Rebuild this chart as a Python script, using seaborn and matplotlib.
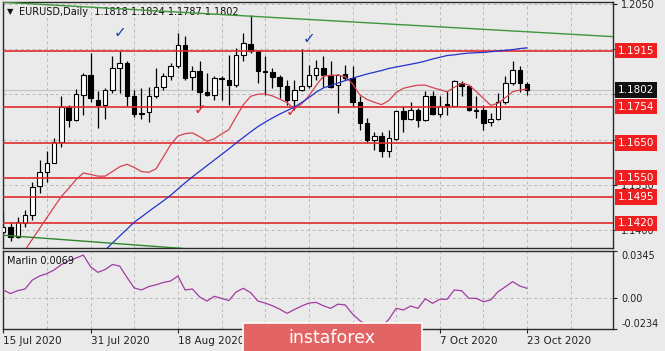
import matplotlib
matplotlib.use("Agg")
import matplotlib.pyplot as plt
import matplotlib.transforms as mtransforms
from matplotlib.patches import Rectangle
import seaborn as sns
import pandas as pd

# daily EURUSD candles, 15 Jul 2020 .. 23 Oct 2020 (bar index 0..72)
opens = [1.1395, 1.1408, 1.1381, 1.1420, 1.1444, 1.1527, 1.1568, 1.1594, 1.1654, 1.1753,
         1.1715, 1.1789, 1.1846, 1.1772, 1.1760, 1.1803, 1.1865, 1.1880, 1.1786, 1.1734,
         1.1738, 1.1784, 1.1812, 1.1843, 1.1870, 1.1932, 1.1839, 1.1858, 1.1797, 1.1789,
         1.1836, 1.1831, 1.1817, 1.1903, 1.1935, 1.1913, 1.1856, 1.1853, 1.1839, 1.1814,
         1.1774, 1.1801, 1.1814, 1.1846, 1.1865, 1.1846, 1.1817, 1.1849, 1.1836, 1.1769,
         1.1707, 1.1659, 1.1669, 1.1626, 1.1661, 1.1741, 1.1719, 1.1745, 1.1717, 1.1784,
         1.1734, 1.1762, 1.1757, 1.1822, 1.1814, 1.1745, 1.1745, 1.1709, 1.1719, 1.1769,
         1.1822, 1.1860, 1.1818]
highs = [1.1449, 1.1424, 1.1439, 1.1458, 1.1539, 1.1602, 1.1626, 1.1664, 1.1784, 1.1760,
         1.1805, 1.1851, 1.1908, 1.1798, 1.1808, 1.1899, 1.1913, 1.1884, 1.1803, 1.1808,
         1.1812, 1.1865, 1.1851, 1.1881, 1.1966, 1.1958, 1.1870, 1.1884, 1.1851, 1.1841,
         1.1841, 1.1903, 1.1923, 1.1966, 1.2016, 1.1918, 1.1899, 1.1865, 1.1846, 1.1832,
         1.1832, 1.1920, 1.1875, 1.1889, 1.1901, 1.1884, 1.1849, 1.1875, 1.1870, 1.1784,
         1.1721, 1.1683, 1.1683, 1.1688, 1.1745, 1.1755, 1.1769, 1.1750, 1.1798, 1.1798,
         1.1784, 1.1798, 1.1832, 1.1827, 1.1817, 1.1784, 1.1760, 1.1736, 1.1793, 1.1841,
         1.1884, 1.1872, 1.1824]
lows = [1.1386, 1.1370, 1.1377, 1.1410, 1.1428, 1.1506, 1.1539, 1.1592, 1.1640, 1.1697,
        1.1712, 1.1731, 1.1769, 1.1693, 1.1719, 1.1793, 1.1793, 1.1755, 1.1726, 1.1719,
        1.1709, 1.1779, 1.1803, 1.1832, 1.1865, 1.1832, 1.1803, 1.1747, 1.1786, 1.1774,
        1.1774, 1.1760, 1.1812, 1.1884, 1.1908, 1.1822, 1.1789, 1.1808, 1.1779, 1.1760,
        1.1745, 1.1799, 1.1808, 1.1832, 1.1811, 1.1808, 1.1736, 1.1832, 1.1755, 1.1688,
        1.1651, 1.1630, 1.1611, 1.1611, 1.1658, 1.1683, 1.1717, 1.1696, 1.1712, 1.1731,
        1.1726, 1.1731, 1.1755, 1.1784, 1.1741, 1.1721, 1.1688, 1.1698, 1.1717, 1.1763,
        1.1817, 1.1795, 1.1787]
closes = [1.1408, 1.1381, 1.1424, 1.1444, 1.1525, 1.1568, 1.1594, 1.1654, 1.1753, 1.1715,
          1.1791, 1.1846, 1.1779, 1.1760, 1.1803, 1.1865, 1.1880, 1.1786, 1.1734, 1.1737,
          1.1784, 1.1812, 1.1843, 1.1870, 1.1932, 1.1836, 1.1858, 1.1795, 1.1789, 1.1836,
          1.1834, 1.1817, 1.1903, 1.1937, 1.1913, 1.1856, 1.1854, 1.1839, 1.1814, 1.1774,
          1.1801, 1.1814, 1.1846, 1.1865, 1.1846, 1.1812, 1.1846, 1.1836, 1.1769, 1.1707,
          1.1659, 1.1671, 1.1626, 1.1664, 1.1741, 1.1719, 1.1745, 1.1717, 1.1784, 1.1734,
          1.1757, 1.1757, 1.1827, 1.1814, 1.1745, 1.1743, 1.1707, 1.1719, 1.1769, 1.1822,
          1.1860, 1.1822, 1.1802]

# short moving average (red), from bar 2
red_ma = [1.1318, 1.1343, 1.1374, 1.1405, 1.1436, 1.1467, 1.1497, 1.1520, 1.1545, 1.1564,
          1.1560, 1.1555, 1.1555, 1.1568, 1.1582, 1.1589, 1.1580, 1.1568, 1.1566, 1.1576,
          1.1610, 1.1645, 1.1670, 1.1677, 1.1679, 1.1668, 1.1655, 1.1662, 1.1676, 1.1688,
          1.1725, 1.1760, 1.1784, 1.1790, 1.1791, 1.1785, 1.1776, 1.1766, 1.1748, 1.1762,
          1.1785, 1.1815, 1.1842, 1.1844, 1.1845, 1.1840, 1.1820, 1.1788, 1.1775, 1.1767,
          1.1760, 1.1772, 1.1795, 1.1807, 1.1812, 1.1816, 1.1816, 1.1809, 1.1803, 1.1797,
          1.1810, 1.1822, 1.1816, 1.1798, 1.1778, 1.1758, 1.1764, 1.1780, 1.1797, 1.1802,
          1.1805]
# long moving average (blue), from bar 13
blue_ma = [1.1320, 1.1343, 1.1363, 1.1383, 1.1403, 1.1423, 1.1438, 1.1454, 1.1469, 1.1484,
           1.1500, 1.1518, 1.1536, 1.1553, 1.1569, 1.1585, 1.1601, 1.1617, 1.1633, 1.1650,
           1.1666, 1.1682, 1.1697, 1.1710, 1.1722, 1.1733, 1.1743, 1.1753, 1.1766, 1.1780,
           1.1796, 1.1808, 1.1815, 1.1822, 1.1829, 1.1836, 1.1842, 1.1848, 1.1853, 1.1858,
           1.1864, 1.1868, 1.1872, 1.1876, 1.1880, 1.1885, 1.1891, 1.1896, 1.1901, 1.1903,
           1.1906, 1.1908, 1.1909, 1.1910, 1.1912, 1.1914, 1.1916, 1.1918, 1.1921, 1.1923]

marlin = [0.0057, 0.0030, 0.0052, 0.0064, 0.0130, 0.0160, 0.0178, 0.0205, 0.0245, 0.0272,
          0.0293, 0.0315, 0.0229, 0.0187, 0.0208, 0.0245, 0.0234, 0.0150, 0.0072, 0.0057,
          0.0082, 0.0095, 0.0112, 0.0123, 0.0160, 0.0057, 0.0064, 0.0005, -0.0025, 0.0010,
          -0.0005, -0.0022, 0.0042, 0.0069, 0.0037, -0.0025, -0.0040, -0.0060, -0.0085, -0.0116,
          -0.0088, -0.0062, -0.0040, -0.0035, -0.0060, -0.0079, -0.0048, -0.0054, -0.0120, -0.0170,
          -0.0205, -0.0228, -0.0215, -0.0160, -0.0079, -0.0091, -0.0062, -0.0079, -0.0008, -0.0042,
          -0.0012, -0.0012, 0.0057, 0.0051, -0.0005, -0.0005, -0.0030, -0.0017, 0.0044, 0.0080,
          0.0118, 0.0086, 0.0069]

levels = [1.1915, 1.1754, 1.1650, 1.1550, 1.1495, 1.1420]
last_price = 1.1802
price_ticks = [1.2050, 1.1920, 1.1790, 1.1660, 1.1530, 1.1400]
marlin_ticks = [0.0345, 0.0, -0.0234]
marlin_tick_labels = ["0.0345", "0.00", "-0.0234"]

# trend lines: (bar, price) anchors
upper_trend_bars = [-1, 84]
upper_trend_vals = [1.2055, 1.1955]
lower_trend_bars = [-1, 40]
lower_trend_vals = [1.1387, 1.1324]

date_bars = [0, 12, 24, 36, 48, 60, 72]
date_labels = ["15 Jul 2020", "31 Jul 2020", "18 Aug 2020", "3 Sep 2020",
               "21 Sep 2020", "7 Oct 2020", "23 Oct 2020"]

blue_checks_bar = [16, 42]
blue_checks_val = [1.1968, 1.1951]
red_checks_bar = [27, 39.7]
red_checks_val = [1.1745, 1.1741]

BG = "#eaeaea"
GRID = "#b9b9b9"


def main():
    sns.set_theme(style="white")
    plt.rcParams["font.family"] = ["DejaVu Sans"]

    n = len(closes)
    bars = list(range(n))
    df = pd.DataFrame({"bar": bars, "open": opens, "high": highs,
                       "low": lows, "close": closes, "marlin": marlin})

    fig = plt.figure(figsize=(6.65, 3.51), dpi=100, facecolor=BG)
    ax = fig.add_axes([2.5 / 665, 1 - 248.3 / 351, 610.5 / 665, 246.8 / 351], facecolor=BG)
    ax2 = fig.add_axes([2.5 / 665, 1 - 329.3 / 351, 610.5 / 665, 78.3 / 351], facecolor=BG)

    xlim = (-0.1, 83.8)
    for a in (ax, ax2):
        a.set_xlim(*xlim)
        for s in a.spines.values():
            s.set_color("#2b2b2b")
            s.set_linewidth(1.0)
        for b in range(6, 84, 6):
            a.axvline(b, color=GRID, lw=0.7, ls=(0, (3, 3)), zorder=1)

    ax.set_ylim(1.1348, 1.2056)
    ax2.set_ylim(-0.0234, 0.0345)

    # grid on main panel
    for p in price_ticks:
        ax.axhline(p, color=GRID, lw=0.7, ls=(0, (3, 3)), zorder=1)
    ax2.axhline(0, color=GRID, lw=0.7, ls=(0, (3, 3)), zorder=1)

    # current price line
    ax.axhline(last_price, color="#c4c4c4", lw=0.8, zorder=1.5)

    # candles
    ax.vlines(df["bar"], df["low"], df["high"], color="black", lw=0.9, zorder=2)
    body_low = df[["open", "close"]].min(axis=1)
    body_h = (df["close"] - df["open"]).abs().clip(lower=0.00008)
    face = ["white" if c >= o else "black" for o, c in zip(opens, closes)]
    ax.bar(df["bar"], body_h, bottom=body_low, width=0.62, color=face,
           edgecolor="black", linewidth=0.8, zorder=3)

    # support / resistance levels
    for lv in levels:
        ax.axhline(lv, color="#e02a2e", lw=1.2, zorder=4)

    # moving averages
    red_df = pd.DataFrame({"bar": bars[2:], "value": red_ma})
    blue_df = pd.DataFrame({"bar": bars[13:], "value": blue_ma})
    sns.lineplot(data=red_df, x="bar", y="value", ax=ax, color="#d8404f", lw=0.9, zorder=5)
    sns.lineplot(data=blue_df, x="bar", y="value", ax=ax, color="#2233cc", lw=0.9, zorder=5)

    # trend lines
    sns.lineplot(x=upper_trend_bars, y=upper_trend_vals, ax=ax, color="#3d963d", lw=1.0, zorder=5)
    sns.lineplot(x=lower_trend_bars, y=lower_trend_vals, ax=ax, color="#2f862f", lw=1.0, zorder=5)

    # check marks
    for b, v in zip(blue_checks_bar, blue_checks_val):
        ax.text(b, v, "\u2713", color="#1f3fa8", fontsize=11, ha="center", va="center",
                fontweight="bold", zorder=6)
    for b, v in zip(red_checks_bar, red_checks_val):
        ax.text(b, v, "\u2713", color="#e0282c", fontsize=11, ha="center", va="center",
                fontweight="bold", zorder=6)

    # right price scale
    ax.yaxis.tick_right()
    ax.set_yticks(price_ticks)
    ax.set_yticklabels([f"{p:.4f}" for p in price_ticks])
    ax.tick_params(axis="y", which="both", direction="out", length=3, width=0.8,
                   colors="#222222", labelsize=7, pad=3, right=True, left=False)
    ax.tick_params(axis="x", bottom=False, labelbottom=False)
    ax.set_xlabel("")
    ax.set_ylabel("")

    trans = mtransforms.blended_transform_factory(ax.transAxes, ax.transData)
    for lv in levels:
        ax.text(1.0075, lv, f"{lv:.4f}", transform=trans, ha="left", va="center",
                color="white", fontsize=7.5, clip_on=False, zorder=8,
                bbox=dict(boxstyle="square,pad=0.25", fc="#f01e1e", ec="none"))
    ax.text(1.0075, last_price, f"{last_price:.4f}", transform=trans, ha="left", va="center",
            color="white", fontsize=7.5, clip_on=False, zorder=8,
            bbox=dict(boxstyle="square,pad=0.25", fc="#111111", ec="none"))

    # header
    ax.text(0.0074, 0.958, "\u25bc", transform=ax.transAxes, fontsize=6, color="#111111",
            ha="left", va="center", zorder=7)
    ax.text(0.027, 0.958, "EURUSD,Daily  1.1818 1.1824 1.1787 1.1802", transform=ax.transAxes,
            fontsize=7, color="#111111", ha="left", va="center", zorder=3)

    # Marlin oscillator
    sns.lineplot(data=df, x="bar", y="marlin", ax=ax2, color="#a03ca0", lw=0.9, zorder=3)
    ax2.text(0.0074, 0.866, "Marlin 0.0069", transform=ax2.transAxes, fontsize=7,
             color="#111111", ha="left", va="center")
    ax2.yaxis.tick_right()
    ax2.set_yticks(marlin_ticks)
    ax2.set_yticklabels(marlin_tick_labels)
    ax2.tick_params(axis="y", direction="out", length=3, width=0.8, colors="#222222",
                    labelsize=7, pad=3, right=True, left=False)
    ylabels = ax2.get_yticklabels()
    ylabels[0].set_va("top")
    ylabels[2].set_va("bottom")
    ax2.set_xticks(date_bars)
    ax2.set_xticklabels(date_labels)
    for t in ax2.get_xticklabels():
        t.set_ha("left")
    ax2.tick_params(axis="x", direction="out", length=3, width=0.8, colors="#222222",
                    labelsize=7.5, pad=2, bottom=True)
    ax2.set_xlabel("")
    ax2.set_ylabel("")

    # watermark
    fig.add_artist(Rectangle((243 / 665, -0.01), 179 / 665, 32 / 351, transform=fig.transFigure,
                             fc="#e36464", ec="white", lw=1.2, zorder=10))
    fig.text(332 / 665, 1 - 338 / 351, "instaforex", color="white", fontsize=12.5,
             ha="center", va="center", zorder=11)

    fig.savefig("out.png", dpi=100, facecolor=BG)


if __name__ == "__main__":
    main()
